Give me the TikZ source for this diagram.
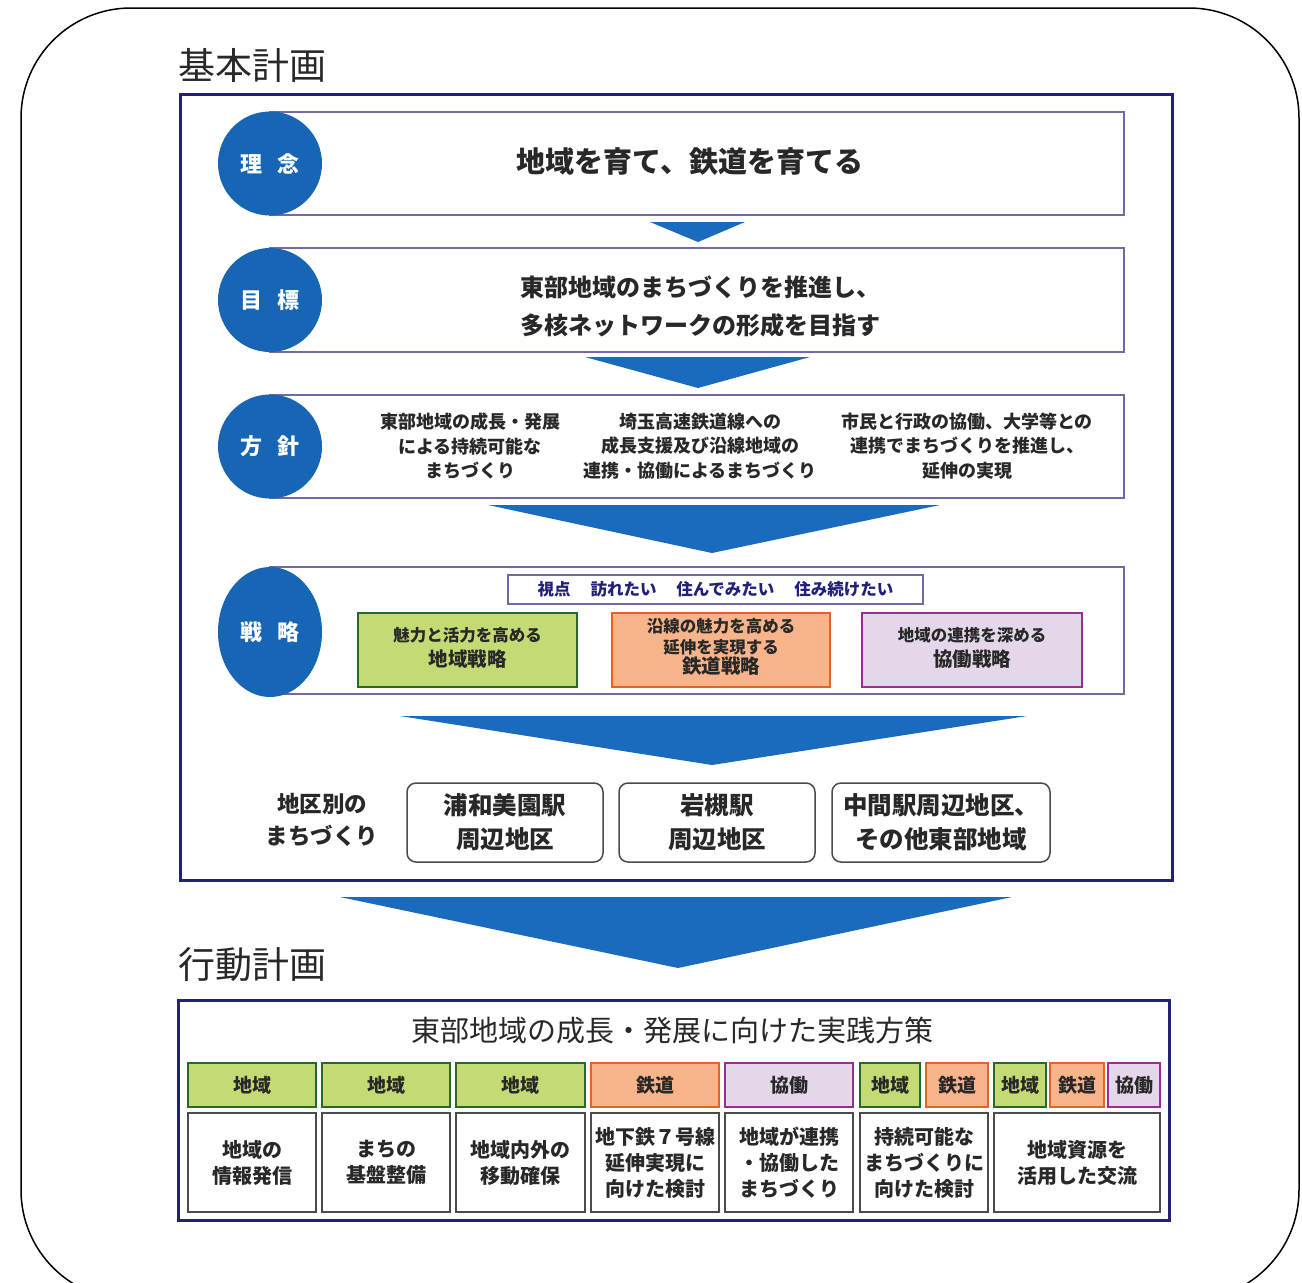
\documentclass[tikz,border=0pt]{standalone}
\usepackage{fontspec}
\setmainfont{Noto Sans CJK JP}
\usetikzlibrary{shapes.geometric}
\newcommand\fsz[2]{\fontsize{#1}{#2}\selectfont}
\definecolor{navy}{RGB}{34,33,122}
\definecolor{rowline}{RGB}{112,106,160}
\definecolor{cblue}{RGB}{23,101,181}
\definecolor{ablue}{RGB}{26,106,190}
\definecolor{gfill}{RGB}{196,218,116}
\definecolor{gline}{RGB}{40,105,45}
\definecolor{ofill}{RGB}{247,180,138}
\definecolor{oline}{RGB}{229,98,42}
\definecolor{pfill}{RGB}{228,215,234}
\definecolor{pline}{RGB}{156,43,150}
\definecolor{txt}{RGB}{40,40,40}
\definecolor{cellline}{RGB}{75,75,75}
\begin{document}
\begin{tikzpicture}[x=1pt,y=-1pt,
  every node/.style={inner sep=0pt,outer sep=0pt,text=txt},
  frame/.style={draw=navy,line width=3pt},
  rowbox/.style={draw=rowline,line width=2pt,fill=white},
  circ/.style={ellipse,fill=cblue,text=white,font=\bfseries\fsz{22}{26}},
  tri/.style={fill=ablue},
  gbox/.style={draw=gline,fill=gfill,line width=2pt},
  obox/.style={draw=oline,fill=ofill,line width=2pt},
  pbox/.style={draw=pline,fill=pfill,line width=2pt},
  lbl/.style={align=center,font=\bfseries\fsz{16.5}{20.5}},
  dbox/.style={draw=cellline,line width=1.5pt,rounded corners=9pt,fill=white,align=center,font=\bfseries\fsz{24.5}{34}},
  cat/.style={line width=2.5pt,font=\bfseries\fsz{19}{22}},
  cell/.style={draw=cellline,line width=2pt,fill=white,align=center,font=\bfseries\fsz{20}{26}},
  heading/.style={anchor=west,font=\fsz{37}{40}}
]
\useasboundingbox (0,0) rectangle (1302,1283);
\draw[line width=1.5pt,rounded corners=110pt] (21,8) rectangle (1299,1300);

% ---------- 基本計画 ----------
\node[heading] (t1) at (178,65) {基本計画};
\node[frame,minimum width=992,minimum height=786] (f1) at (676,487) {};

% row 1
\node[rowbox,minimum width=854,minimum height=103] (r1) at (697,163.5) {};
\node[circ,minimum width=104,minimum height=104] (c1) at (270,163.5) {理\hspace{0.7em}念};
\node[font=\bfseries\fsz{29}{35}] (r1t) at (690,162) {地域を育て、鉄道を育てる};
\fill[tri] (650,222) -- (745,222) -- (698,242) -- cycle;

% row 2
\node[rowbox,minimum width=854,minimum height=104] (r2) at (697,300) {};
\node[circ,minimum width=104,minimum height=104] (c2) at (270,300) {目\hspace{0.7em}標};
\node[align=center,font=\bfseries\fsz{24}{38}] (r2t) at (700,306) {東部地域のまちづくりを推進し、\\多核ネットワークの形成を目指す};
\fill[tri] (585,357) -- (810,357) -- (698,388) -- cycle;

% row 3
\node[rowbox,minimum width=854,minimum height=103] (r3) at (697,446.5) {};
\node[circ,minimum width=104,minimum height=104] (c3) at (270,446.5) {方\hspace{0.7em}針};
\node[align=center,font=\bfseries\fsz{18}{24.5}] (p1) at (470,446) {東部地域の成長・発展\\による持続可能な\\まちづくり};
\node[align=center,font=\bfseries\fsz{18}{24.5}] (p2) at (700,446) {埼玉高速鉄道線への\\成長支援及び沿線地域の\\連携・協働によるまちづくり};
\node[align=center,font=\bfseries\fsz{18}{24.5}] (p3) at (967,446) {市民と行政の協働、大学等との\\連携でまちづくりを推進し、\\延伸の実現};
\fill[tri] (488,505) -- (940,505) -- (712,553) -- cycle;

% row 4
\node[rowbox,minimum width=854,minimum height=127] (r4) at (697,630.5) {};
\node[circ,minimum width=104,minimum height=130] (c4) at (270,632) {戦\hspace{0.7em}略};
\node[draw=rowline,line width=2pt,fill=white,minimum width=415,minimum height=29,font=\bfseries\fsz{16.5}{20},text=navy] (vp) at (715.5,589.5) {視点\hspace{1.2em}訪れたい\hspace{1.2em}住んでみたい\hspace{1.2em}住み続けたい};
\node[gbox,minimum width=219,minimum height=74] (s1) at (467.5,650) {};
\node[lbl,font=\bfseries\fsz{16.5}{25}] (s1t) at (467.5,648) {魅力と活力を高める\\{\fsz{19.5}{25}地域戦略}};
\node[obox,minimum width=218,minimum height=74] (s2) at (721,650) {};
\node[lbl] (s2t) at (721,647) {沿線の魅力を高める\\延伸を実現する\\{\fsz{19.5}{22}鉄道戦略}};
\node[pbox,minimum width=220,minimum height=74] (s3) at (972,650) {};
\node[lbl,font=\bfseries\fsz{16.5}{25}] (s3t) at (972,648) {地域の連携を深める\\{\fsz{19.5}{25}協働戦略}};
\fill[tri] (400,716) -- (1027,716) -- (712,765) -- cycle;

% districts
\node[align=center,font=\bfseries\fsz{22.5}{32}] (dl) at (322,820) {地区別の\\まちづくり};
\node[dbox,minimum width=196,minimum height=79] (d1) at (505,822.5) {浦和美園駅\\周辺地区};
\node[dbox,minimum width=196,minimum height=79] (d2) at (717,822.5) {岩槻駅\\周辺地区};
\node[dbox,minimum width=218,minimum height=79] (d3) at (941,822.5) {中間駅周辺地区、\\その他東部地域};

% big arrow
\fill[tri] (340,897) -- (1012,897) -- (678,968) -- cycle;

% ---------- 行動計画 ----------
\node[heading] (t2) at (178,965) {行動計画};
\node[frame,minimum width=991,minimum height=220] (f2) at (673.5,1110) {};
\node[font=\fsz{29}{35}] (f2t) at (672,1031) {東部地域の成長・発展に向けた実践方策};

% category row
\node[cat,gbox,minimum width=128,minimum height=44] (k1) at (252,1085) {地域};
\node[cat,gbox,minimum width=128,minimum height=44] (k2) at (386,1085) {地域};
\node[cat,gbox,minimum width=129,minimum height=44] (k3) at (520.5,1085) {地域};
\node[cat,obox,minimum width=128,minimum height=44] (k4) at (655,1085) {鉄道};
\node[cat,pbox,minimum width=128,minimum height=44] (k5) at (789,1085) {協働};
\node[cat,gbox,minimum width=60,minimum height=44] (k6a) at (890,1085) {地域};
\node[cat,obox,minimum width=62,minimum height=44] (k6b) at (957,1085) {鉄道};
\node[cat,gbox,minimum width=52,minimum height=44] (k7a) at (1020,1085) {地域};
\node[cat,obox,minimum width=54,minimum height=44] (k7b) at (1077,1085) {鉄道};
\node[cat,pbox,minimum width=52,minimum height=44] (k7c) at (1134,1085) {協働};

% content row
\node[cell,minimum width=128,minimum height=99] (m1) at (252,1162.5) {地域の\\情報発信};
\node[cell,minimum width=128,minimum height=99] (m2) at (386,1162.5) {まちの\\基盤整備};
\node[cell,minimum width=129,minimum height=99] (m3) at (520.5,1162.5) {地域内外の\\移動確保};
\node[cell,minimum width=128,minimum height=99] (m4) at (655,1162.5) {地下鉄７号線\\延伸実現に\\向けた検討};
\node[cell,minimum width=128,minimum height=99] (m5) at (789,1162.5) {地域が連携\\・協働した\\まちづくり};
\node[cell,minimum width=128,minimum height=99] (m6) at (924,1162.5) {持続可能な\\まちづくりに\\向けた検討};
\node[cell,minimum width=166,minimum height=99] (m7) at (1077,1162.5) {地域資源を\\活用した交流};
\end{tikzpicture}
\end{document}
